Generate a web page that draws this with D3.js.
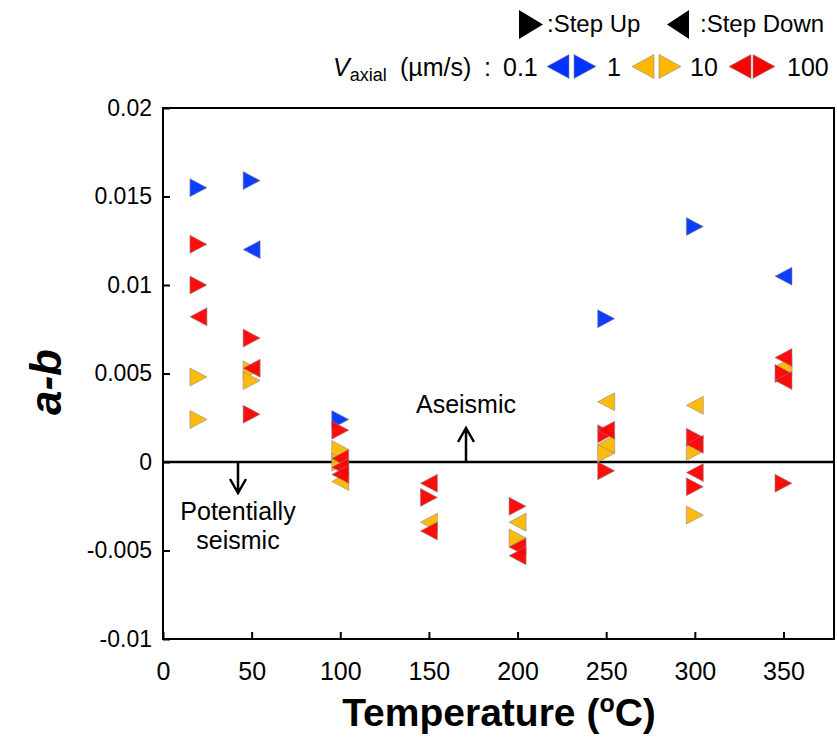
<html lang='en'>

<head>
    <title>a-b vs Temperature</title>
    <script src="https://d3js.org/d3.v7.min.js" charset="utf-8"></script>
    <style>
        body { margin: 0; background: #fff; }
        text { font-family: "Liberation Sans", Arial, sans-serif; fill: #000; }
    </style>
</head>

<body>
    <script>
        // data: [temperature, a-b]
        var blueUp = [[20, 0.0155], [50, 0.0159], [100, 0.0024], [250, 0.0081], [300, 0.0133]];
        var blueDown = [[50, 0.0120], [350, 0.0105]];
        var orangeUp = [[20, 0.0048], [20, 0.0024], [50, 0.0052], [50, 0.0046], [100, 0.0007], [100, 0.0000],
            [200, -0.0043], [250, 0.0005], [300, 0.0006], [300, -0.0030]];
        var orangeDown = [[100, -0.0011], [150, -0.0034], [200, -0.0034], [250, 0.0034], [250, 0.0010],
            [300, 0.0032], [350, 0.0054]];
        var redUp = [[20, 0.0123], [20, 0.0100], [50, 0.0070], [50, 0.0027], [100, 0.0018], [150, -0.0020],
            [200, -0.0025], [250, 0.0016], [250, -0.0005], [300, 0.0014], [300, -0.0014], [350, 0.0050], [350, -0.0012]];
        var redDown = [[20, 0.0082], [50, 0.0053], [100, 0.0002], [100, -0.0003], [100, -0.0007], [150, -0.0012],
            [150, -0.0039], [200, -0.0048], [200, -0.0053], [250, 0.0018], [300, 0.0010], [300, -0.0006],
            [350, 0.0059], [350, 0.0046]];

        var speeds = ['0.1', '1', '10', '100'];
        var colors = ['#0033ff', '#ffb700', '#ff0000'];
        var xTicks = [0, 50, 100, 150, 200, 250, 300, 350];
        var yTicks = [-0.01, -0.005, 0, 0.005, 0.01, 0.015, 0.02];

        // canvas
        var width = 837, height = 738;
        var margin = { left: 163, right: 3, top: 108, bottom: 99 };

        var svg = d3.select('body').append('svg')
            .attr('width', width).attr('height', height);

        var x = d3.scaleLinear().domain([0, 378.5]).range([margin.left, width - margin.right]);
        var y = d3.scaleLinear().domain([-0.01, 0.02]).range([height - margin.bottom, margin.top]);

        // axes
        var xAxis = svg.append('g').attr('transform', 'translate(0,' + y(-0.01) + ')')
            .call(d3.axisBottom(x).tickValues(xTicks).tickSize(-7).tickPadding(23));
        xAxis.selectAll('text').style('font-size', '25px');

        var yAxis = svg.append('g').attr('transform', 'translate(' + x(0) + ',0)')
            .call(d3.axisLeft(y).tickValues(yTicks).tickSize(-7).tickPadding(11)
                .tickFormat(function (d) { return String(+d.toFixed(3)); }));
        yAxis.selectAll('text').style('font-size', '23px');

        svg.selectAll('.domain').remove();
        svg.selectAll('.tick line').attr('stroke', '#000').attr('stroke-width', 2);

        // frame
        svg.append('rect')
            .attr('x', x(0)).attr('y', y(0.02))
            .attr('width', x.range()[1] - x(0)).attr('height', y(-0.01) - y(0.02))
            .attr('fill', 'none').attr('stroke', '#000').attr('stroke-width', 2);

        // zero line
        svg.append('line')
            .attr('x1', x(0)).attr('x2', x.range()[1])
            .attr('y1', y(0)).attr('y2', y(0))
            .attr('stroke', '#000').attr('stroke-width', 2.5);

        // arrows and annotations
        function arrow(ax, y0, y1) {
            var s = y1 < y0 ? 1 : -1;
            svg.append('path')
                .attr('d', 'M' + ax + ',' + y0 + 'L' + ax + ',' + y1 +
                    'M' + (ax - 8) + ',' + (y1 + s * 14) + 'L' + ax + ',' + y1 + 'L' + (ax + 8) + ',' + (y1 + s * 14))
                .attr('fill', 'none').attr('stroke', '#000').attr('stroke-width', 2.5);
        }
        arrow(466, y(0), 428);
        arrow(238, y(0), 493);

        svg.append('text').attr('x', 466).attr('y', 413).attr('text-anchor', 'middle')
            .style('font-size', '25px').text('Aseismic');
        svg.append('text').attr('x', 238).attr('y', 520).attr('text-anchor', 'middle')
            .style('font-size', '25px').text('Potentially');
        svg.append('text').attr('x', 238).attr('y', 549).attr('text-anchor', 'middle')
            .style('font-size', '25px').text('seismic');

        // axis titles
        var xt = svg.append('text').attr('x', 499).attr('y', 726).attr('text-anchor', 'middle')
            .style('font-size', '39px').style('font-weight', 'bold');
        xt.append('tspan').text('Temperature (');
        xt.append('tspan').attr('dy', -14).style('font-size', '25px').text('o');
        xt.append('tspan').attr('dy', 14).text('C)');

        svg.append('text').attr('transform', 'translate(61,382) rotate(-90)')
            .attr('text-anchor', 'middle')
            .style('font-size', '44px').style('font-weight', 'bold').style('font-style', 'italic')
            .text('a-b');

        // triangle markers
        function tri(w, h, dir) {
            var a = w / 2 * dir, b = h / 2;
            return 'M' + (-a) + ',' + (-b) + 'L' + a + ',0L' + (-a) + ',' + b + 'Z';
        }

        var series = [
            [blueUp, colors[0], 1], [blueDown, colors[0], -1],
            [orangeUp, colors[1], 1], [orangeDown, colors[1], -1],
            [redUp, colors[2], 1], [redDown, colors[2], -1]
        ];
        var pts = svg.append('g');
        series.forEach(function (s) {
            pts.selectAll(null).data(s[0]).enter().append('path')
                .attr('transform', function (d) { return 'translate(' + x(d[0]) + ',' + y(d[1]) + ')'; })
                .attr('d', tri(17, 18, s[2]))
                .attr('fill', s[1]).attr('fill-opacity', 0.95)
                .attr('stroke', '#8a8a8a').attr('stroke-width', 0.6);
        });

        // legend, row 1
        var lg = svg.append('g');
        lg.append('path').attr('transform', 'translate(531,24.5)').attr('d', tri(24, 29, 1)).attr('fill', '#000');
        lg.append('text').attr('x', 547).attr('y', 32).style('font-size', '24px').text(':Step Up');
        lg.append('path').attr('transform', 'translate(678,24.5)').attr('d', tri(22, 29, -1)).attr('fill', '#000');
        lg.append('text').attr('x', 700).attr('y', 32).style('font-size', '24px').text(':Step Down');

        // legend, row 2
        var v = lg.append('text').attr('x', 333).attr('y', 76).style('font-size', '25px');
        v.append('tspan').style('font-style', 'italic').text('V');
        v.append('tspan').attr('dy', 5).style('font-size', '18px').text('axial');
        lg.append('text').attr('x', 400).attr('y', 76).style('font-size', '25px').text('(\u00b5m/s)');
        lg.append('text').attr('x', 484).attr('y', 76).style('font-size', '25px').text(':');

        var labelX = [503, 607, 690, 787];
        var keyX = [[558, 585], [643, 670], [740, 764]];
        speeds.forEach(function (s, i) {
            lg.append('text').attr('x', labelX[i]).attr('y', 76).style('font-size', '25px').text(s);
        });
        keyX.forEach(function (k, i) {
            lg.append('path').attr('transform', 'translate(' + k[0] + ',66.5)').attr('d', tri(22, 24, -1))
                .attr('fill', colors[i]).attr('stroke', '#8a8a8a').attr('stroke-width', 0.6);
            lg.append('path').attr('transform', 'translate(' + k[1] + ',66.5)').attr('d', tri(22, 24, 1))
                .attr('fill', colors[i]).attr('stroke', '#8a8a8a').attr('stroke-width', 0.6);
        });
    </script>
</body>

</html>
